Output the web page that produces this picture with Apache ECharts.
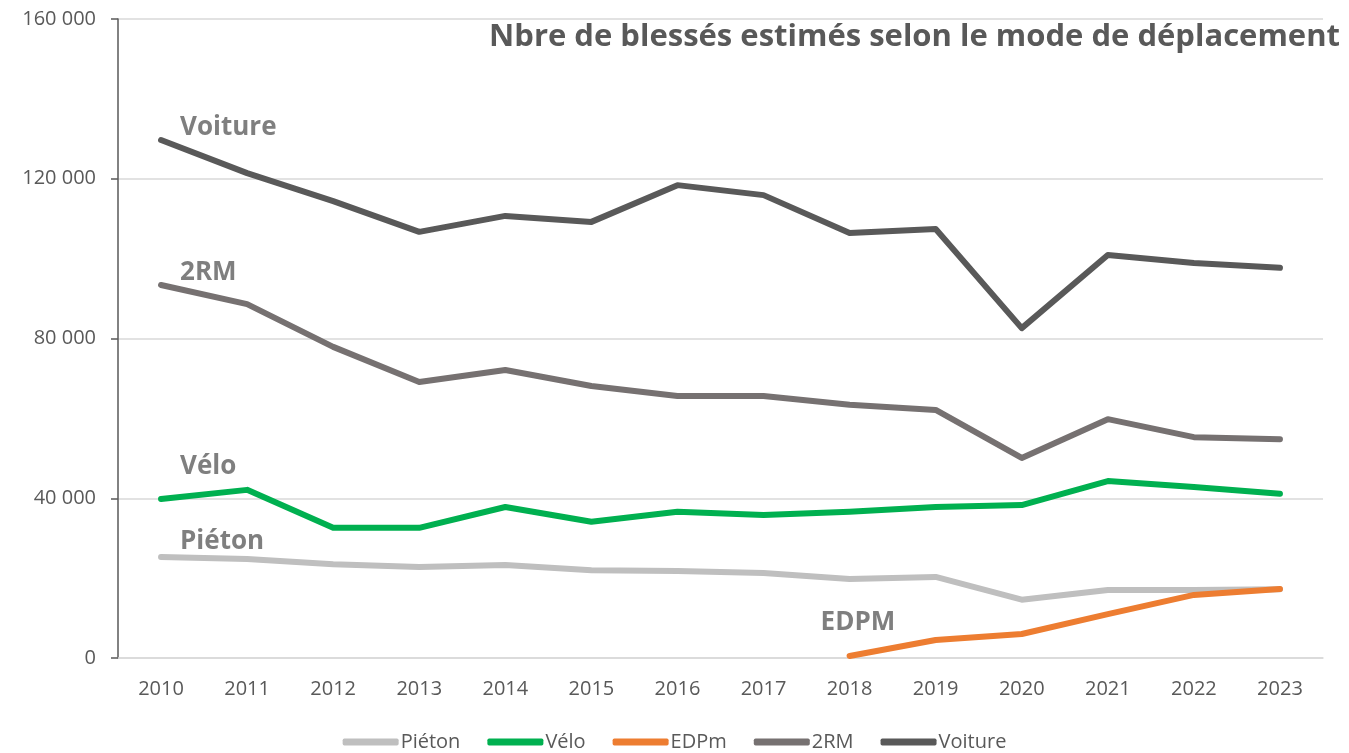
<!DOCTYPE html>
<html>
<head>
<meta charset="utf-8">
<script src="https://cdn.jsdelivr.net/npm/echarts@6/dist/echarts.min.js"></script>
<style>
  html, body { margin: 0; padding: 0; background: #fff; }
  #chart { width: 1349px; height: 753px; }
</style>
</head>
<body>
<div id="chart"></div>
<script>
const years = ['2010', '2011', '2012', '2013', '2014', '2015', '2016', '2017', '2018', '2019', '2020', '2021', '2022', '2023']
const pieton = [25300, 24800, 23500, 22800, 23300, 22000, 21800, 21300, 19800, 20300, 14600, 17000, 17000, 17200]
const velo = [39800, 42100, 32600, 32600, 37800, 34100, 36600, 35800, 36600, 37800, 38300, 44300, 42800, 41100]
const edpm = [null, null, null, null, null, null, null, null, 500, 4500, 6000, 11000, 15800, 17300]
const deuxRM = [93400, 88600, 77900, 69100, 72100, 68100, 65600, 65600, 63400, 62100, 50100, 59800, 55300, 54800]
const voiture = [129700, 121400, 114400, 106700, 110700, 109200, 118400, 115900, 106400, 107400, 82600, 100900, 98900, 97700]
const yTicks = [0, 40000, 80000, 120000, 160000]

const FONT = '"Open Sans", "Noto Sans", sans-serif'
const TXT = '#595959'

const chart = echarts.init(document.getElementById('chart'))

function line(name, data, color) {
  return {
    name, type: 'line', data,
    showSymbol: false, symbol: 'none',
    lineStyle: { width: 6, color, cap: 'round', join: 'round' },
    itemStyle: { color },
    emphasis: { disabled: true },
  }
}

chart.setOption({
  animation: false,
  textStyle: { fontFamily: FONT },
  grid: { left: 118, right: 26, top: 19, bottom: 95 },
  legend: {
    top: 732,
    left: 'center',
    padding: 0,
    icon: 'roundRect',
    itemWidth: 56,
    itemHeight: 7,
    itemGap: 27,
    textStyle: { color: TXT, fontSize: 20, padding: [0, 0, 0, -3] },
    data: ['Piéton', 'Vélo', 'EDPm', '2RM', 'Voiture'],
  },
  xAxis: {
    type: 'category',
    data: years,
    boundaryGap: true,
    axisLine: { lineStyle: { color: '#d9d9d9', width: 1.5 } },
    axisTick: { show: false },
    axisLabel: { color: TXT, fontSize: 20, margin: 21 },
  },
  yAxis: {
    type: 'value',
    min: yTicks[0],
    max: yTicks[yTicks.length - 1],
    interval: 40000,
    axisLine: { show: true, lineStyle: { color: '#595959', width: 1.5 } },
    axisTick: { show: true, length: 7, lineStyle: { color: '#595959', width: 1.5 } },
    splitLine: { lineStyle: { color: '#d9d9d9', width: 1.5 } },
    axisLabel: {
      color: TXT, fontSize: 20, margin: 22,
      formatter: v => String(v).replace(/\B(?=(\d{3})+(?!\d))/g, ' '),
    },
  },
  series: [
    line('Piéton', pieton, '#bfbfbf'),
    line('Vélo', velo, '#00b050'),
    line('EDPm', edpm, '#ed7d31'),
    line('2RM', deuxRM, '#767171'),
    line('Voiture', voiture, '#595959'),
  ],
})

// in-chart series labels, anchored to a data point of each series
const labels = [
  { text: 'Voiture', series: 4, idx: 0, dx: 19, dy: -11 },
  { text: '2RM', series: 3, idx: 0, dx: 19, dy: -11 },
  { text: 'Vélo', series: 1, idx: 0, dx: 19, dy: -31 },
  { text: 'Piéton', series: 0, idx: 0, dx: 19, dy: -14 },
  { text: 'EDPM', series: 2, idx: 8, dx: -29, dy: -32 },
]
const srcs = [pieton, velo, edpm, deuxRM, voiture]
const graphics = labels.map(l => {
  const p = chart.convertToPixel({ seriesIndex: l.series }, [l.idx, srcs[l.series][l.idx]])
  return {
    type: 'text', left: p[0] + l.dx, top: p[1] + l.dy - 14,
    style: { text: l.text, fill: '#7f7f7f', font: 'bold 26px ' + FONT },
  }
})
graphics.push({
  type: 'text', right: 9, top: 22,
  style: { text: 'Nbre de blessés estimés selon le mode de déplacement', fill: TXT, font: 'bold 31px ' + FONT },
})
chart.setOption({ graphic: graphics })
</script>
</body>
</html>
